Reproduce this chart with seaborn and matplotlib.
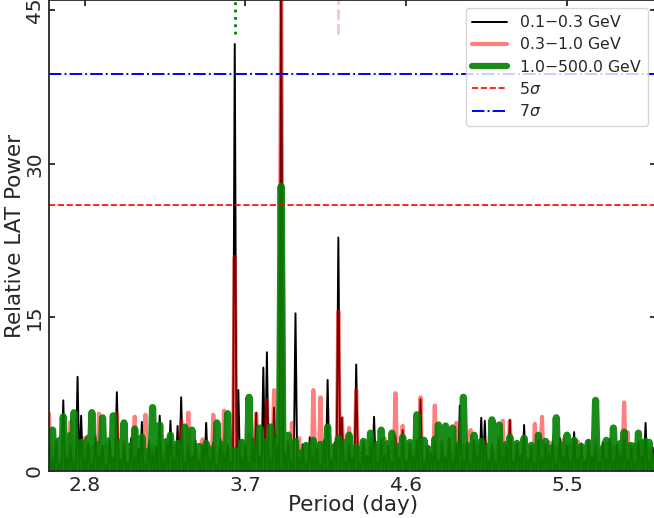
import numpy as np
import pandas as pd
import matplotlib
matplotlib.use("Agg")
import matplotlib.pyplot as plt
import seaborn as sns

# Period grid of the periodogram (day)
period = np.round(np.arange(2.60, 6.001, 0.02), 2)

# Relative LAT power, one value per grid period
power_low = [
    3.5, 1.0, 2.8, 0.7, 6.9, 1.2, 2.5, 0.9, 9.2, 5.4,
    1.1, 2.7, 0.8, 3.4, 1.5, 2.4, 0.6, 3.0, 1.3, 7.7,
    1.0, 2.6, 0.8, 3.2, 1.4, 2.2, 4.8, 0.7, 2.9, 1.6,
    2.4, 5.4, 0.9, 2.6, 4.9, 1.1, 4.4, 7.2, 0.8, 2.5,
    1.5, 3.0, 0.9, 2.4, 4.7, 1.2, 2.8, 0.6, 3.1, 1.7,
    2.5, 0.9, 41.7, 7.9, 1.3, 2.6, 0.8, 3.2, 5.7, 1.4,
    10.1, 11.6, 1.0, 6.2, 2.4, 50.0, 1.8, 2.7, 0.9, 15.4,
    1.2, 2.6, 0.8, 3.3, 1.5, 2.2, 0.7, 3.0, 8.9, 1.1,
    2.8, 22.8, 5.2, 0.9, 2.6, 1.3, 10.4, 0.8, 2.9, 1.5,
    2.4, 5.3, 0.8, 3.1, 1.6, 2.5, 0.9, 3.4, 1.2, 4.0,
    1.0, 2.7, 1.4, 3.0, 7.0, 0.8, 2.3, 1.7, 2.9, 1.0,
    2.6, 1.3, 3.2, 0.9, 2.5, 6.4, 1.1, 2.8, 0.7, 3.0,
    1.5, 5.2, 4.9, 1.0, 2.6, 0.8, 3.1, 1.4, 2.5, 5.0,
    0.9, 2.7, 1.6, 4.5, 1.1, 2.4, 0.8, 3.0, 1.3, 2.6,
    1.7, 2.9, 0.7, 3.2, 1.4, 2.5, 0.9, 3.8, 1.2, 2.7,
    1.0, 3.0, 1.5, 2.4, 0.8, 2.8, 1.3, 3.1, 0.9, 2.6,
    1.6, 3.0, 1.1, 2.5, 0.8, 2.9, 1.4, 4.7, 1.0, 2.3,
    1.9,
]
power_mid = [
    5.6, 1.2, 3.0, 0.8, 2.5, 1.5, 4.8, 0.6, 2.7, 1.9,
    3.2, 0.9, 2.4, 1.3, 5.6, 0.7, 2.6, 1.8, 0.9, 5.6,
    1.1, 2.9, 0.6, 2.2, 5.3, 1.4, 0.8, 5.5, 1.7, 2.3,
    0.7, 2.8, 1.5, 3.0, 0.9, 2.4, 1.2, 4.9, 0.8, 5.7,
    1.3, 2.5, 0.9, 3.1, 1.6, 2.4, 5.5, 0.7, 2.6, 5.9,
    1.0, 2.1, 20.9, 1.4, 2.8, 0.8, 3.5, 1.9, 5.6, 1.1,
    2.7, 6.9, 1.5, 7.9, 1.2, 50.0, 1.6, 2.9, 4.7, 0.9,
    3.2, 1.8, 2.5, 0.8, 7.9, 1.3, 7.2, 2.1, 3.0, 1.0,
    2.6, 15.6, 5.2, 1.4, 4.2, 0.9, 7.9, 1.7, 2.3, 0.8,
    3.0, 1.2, 2.5, 1.6, 3.2, 0.7, 2.8, 7.6, 1.3, 4.4,
    1.0, 2.6, 1.8, 3.0, 7.2, 0.9, 2.4, 1.5, 6.4, 1.1,
    2.9, 0.8, 3.1, 1.6, 4.7, 1.0, 2.5, 1.9, 4.0, 0.7,
    2.6, 1.4, 3.0, 0.9, 2.2, 1.7, 3.3, 4.9, 1.2, 4.9,
    0.8, 2.5, 1.5, 3.0, 1.0, 2.4, 4.6, 1.3, 5.3, 0.9,
    2.8, 1.6, 2.3, 0.7, 3.1, 1.4, 2.6, 1.0, 2.9, 1.8,
    0.8, 2.5, 1.3, 3.0, 2.0, 0.9, 2.7, 1.5, 2.4, 1.1,
    2.0, 6.7, 3.8, 0.8, 2.6, 1.3, 2.9, 1.0, 2.2, 1.6,
    2.8,
]
power_high = [
    2.5, 4.0, 0.8, 3.0, 5.3, 1.2, 3.5, 5.7, 0.5, 2.8,
    1.5, 3.2, 5.7, 0.9, 2.6, 5.2, 1.0, 3.0, 5.4, 0.6,
    2.8, 4.7, 1.1, 2.5, 4.1, 0.7, 3.3, 1.9, 0.8, 6.2,
    1.5, 4.5, 0.6, 2.9, 3.5, 1.2, 2.7, 0.9, 4.3, 1.8,
    4.0, 0.5, 2.4, 1.3, 2.7, 0.8, 2.2, 4.7, 1.0, 2.6,
    5.6, 0.7, 2.0, 1.2, 2.8, 0.9, 7.2, 1.6, 2.5, 4.2,
    1.0, 2.9, 4.3, 1.4, 3.0, 27.8, 1.5, 3.5, 0.8, 2.9,
    1.8, 0.6, 2.5, 1.9, 3.0, 0.7, 2.6, 1.3, 4.3, 1.0,
    2.4, 3.2, 1.1, 2.8, 3.5, 0.9, 2.3, 1.6, 2.9, 0.7,
    3.7, 1.4, 2.6, 4.0, 0.8, 2.7, 3.7, 1.2, 2.4, 3.3,
    0.9, 2.8, 1.7, 5.5, 1.0, 3.0, 2.2, 0.8, 3.1, 4.5,
    1.3, 4.4, 0.9, 4.2, 1.8, 2.6, 7.2, 1.1, 2.5, 3.5,
    0.7, 2.9, 1.6, 2.4, 5.0, 0.8, 4.5, 1.5, 2.6, 3.3,
    0.9, 2.7, 1.8, 3.2, 0.6, 2.5, 1.7, 3.5, 1.0, 2.9,
    1.4, 2.3, 5.2, 0.8, 2.6, 3.5, 1.2, 3.0, 0.7, 2.4,
    1.6, 2.8, 0.9, 6.9, 1.3, 2.2, 3.0, 0.8, 4.2, 1.5,
    2.7, 3.8, 0.9, 2.5, 1.8, 3.7, 0.6, 2.9, 2.8, 1.2,
    2.6,
]

band_labels = ["0.1$-$0.3 GeV", "0.3$-$1.0 GeV", "1.0$-$500.0 GeV"]
sigma5_level = 26.0
sigma7_level = 38.8
marker_periods = [3.64, 4.22]

# the power drops back to ~0 between the sampled peaks
baseline = 0.0
half_step = 0.01


def spiky(values):
    x = np.column_stack([period, period + half_step]).ravel()
    y = np.column_stack([values, np.full(len(values), baseline)]).ravel()
    return x, y


rows = []
for key, vals in [("low", power_low), ("mid", power_mid), ("high", power_high)]:
    x, y = spiky(vals)
    rows.append(pd.DataFrame({"period": x, "power": y, "band": key}))
df = pd.concat(rows, ignore_index=True)

sns.set_style("ticks")
plt.rcParams["font.family"] = ["DejaVu Sans"]

fig = plt.figure(figsize=(6.54, 5.18), dpi=100)
ax = fig.add_axes([0.0749, 0.0907, 0.9286, 0.9093])

sns.lineplot(data=df[df.band == "low"], x="period", y="power", ax=ax,
             color="black", lw=1.4, label=band_labels[0], sort=False)
sns.lineplot(data=df[df.band == "mid"], x="period", y="power", ax=ax,
             color="red", alpha=0.5, lw=3.0, label=band_labels[1], sort=False)
sns.lineplot(data=df[df.band == "high"], x="period", y="power", ax=ax,
             color="green", alpha=0.9, lw=5.2, label=band_labels[2], sort=False)

ax.axhline(sigma5_level, color="red", ls="--", lw=1.2, label="5$\\sigma$")
ax.axhline(sigma7_level, color="blue", ls="-.", lw=1.4, label="7$\\sigma$")
ax.axvline(marker_periods[0], ymin=0.928, ymax=1.0, color="green", ls=":", lw=2)
ax.axvline(marker_periods[1], ymin=0.928, ymax=1.0, color="pink", ls="--", lw=2)

ax.set_xlim(2.6, 6.0)
ax.set_ylim(0, 46)
ax.set_xticks([2.8, 3.7, 4.6, 5.5])
ax.set_yticks([0, 15, 30, 45])
ax.tick_params(axis="both", which="major", labelsize=14.5, length=4.5, width=1.3,
               top=True, right=True, direction="in")
plt.setp(ax.get_yticklabels(), rotation=90, va="center")
for s in ax.spines.values():
    s.set_linewidth(1.3)

ax.set_xlabel("Period (day)", fontsize=15.5, labelpad=0)
ax.set_ylabel("Relative LAT Power", fontsize=15.5, labelpad=0)

leg = ax.legend(loc="upper right", fontsize=11.3, handlelength=2.2,
                labelspacing=0.4, framealpha=0.8)
for line in leg.get_lines():
    if line.get_color() == "green":
        line.set_linewidth(4.5)

fig.savefig("out.png", dpi=100)
